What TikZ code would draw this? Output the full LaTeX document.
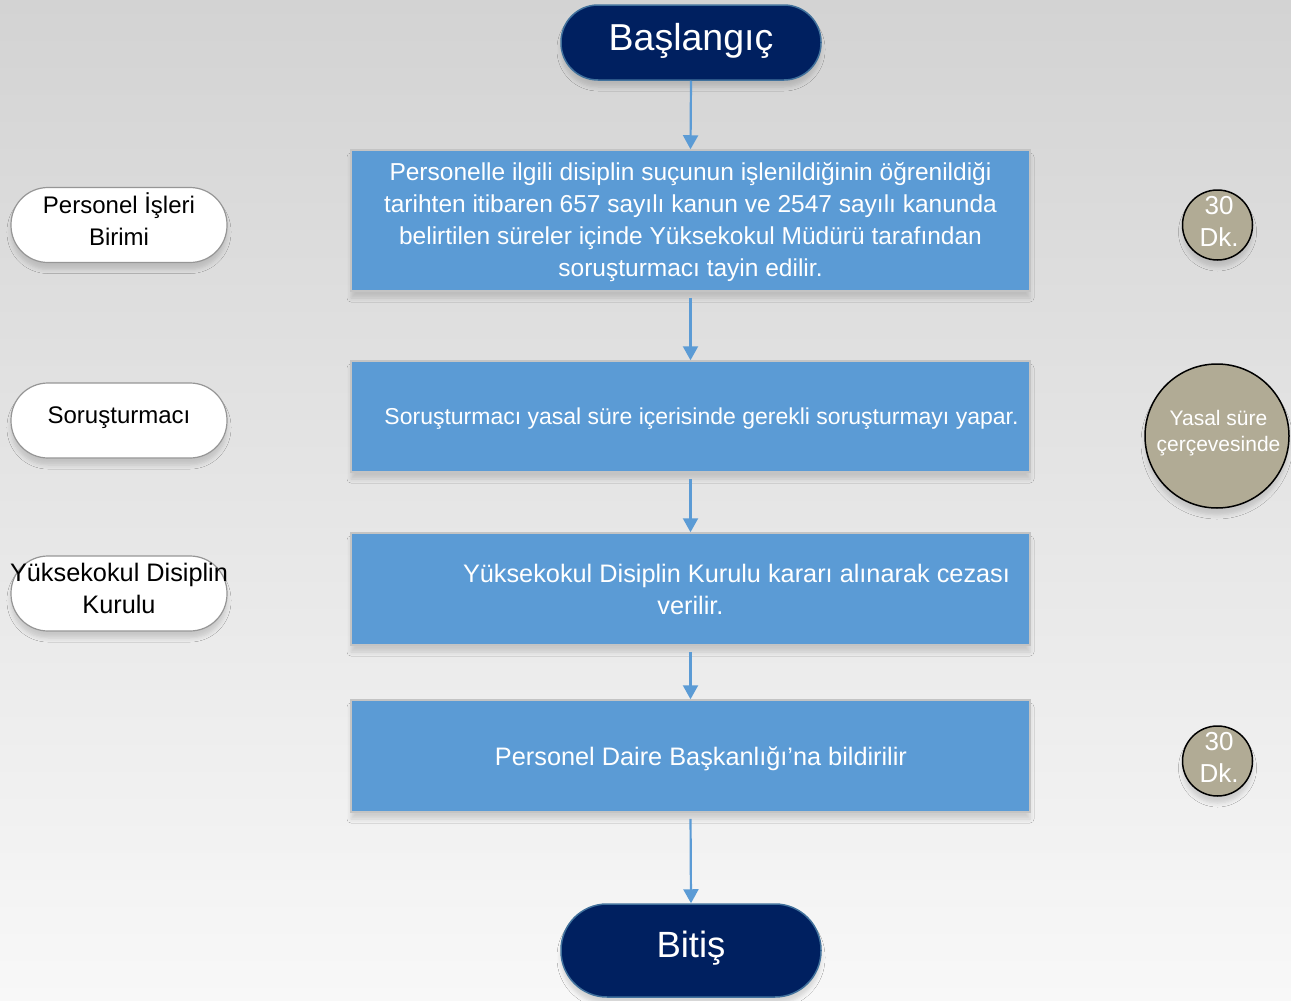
\documentclass[tikz,border=0pt]{standalone}
\usepackage{fontspec}
\setmainfont{Liberation Sans}
\usetikzlibrary{arrows.meta,shadows.blur}
\definecolor{navy}{RGB}{0,32,96}
\definecolor{navyedge}{RGB}{65,113,156}
\definecolor{stepblue}{RGB}{91,155,213}
\definecolor{stepedge}{RGB}{196,196,196}
\definecolor{timefill}{RGB}{177,171,149}
\definecolor{roleedge}{RGB}{150,150,150}
\definecolor{bgtop}{RGB}{211,211,211}
\definecolor{bgbottom}{RGB}{248,248,248}
\tikzset{
  softshadow/.style={blur shadow={shadow xshift=0pt,shadow yshift=-7pt,shadow blur radius=4pt,
    shadow opacity=14}},
  terminal/.style={draw=navyedge,line width=1.5pt,fill=navy,minimum width=260pt,softshadow},
  termtext/.style={text=white,font=\fontsize{37.5}{40}\selectfont},
  stepbox/.style={draw=stepedge,line width=1.5pt,fill=stepblue,minimum width=679pt,softshadow},
  steptext/.style={text=white,align=center,inner sep=0pt},
  role/.style={draw=roleedge,line width=1.2pt,fill=white,rounded corners=37pt,minimum width=216pt,
    minimum height=75pt,softshadow},
  roletext/.style={align=center,inner sep=0pt},
  timecircle/.style={circle,draw=black,line width=1.5pt,fill=timefill,inner sep=0pt,softshadow},
  timetext/.style={text=white,align=center,inner sep=0pt,xshift=1.5pt},
  flow/.style={draw=stepblue,line width=2.2pt,-{Triangle[width=15pt,length=14pt]}},
}
\begin{document}
\begin{tikzpicture}[x=1pt,y=-1pt]
  % page background
  \shade[top color=bgtop,bottom color=bgbottom] (0,0) rectangle (1291,1001);
  \useasboundingbox (0,0) rectangle (1291,1001);

  % start and end terminals
  \node[terminal,minimum height=75pt,rounded corners=37pt,
        label={[termtext,yshift=2pt]center:Başlangıç}] (start) at (691,42.5) {};
  \node[terminal,minimum height=93pt,rounded corners=46pt,
        label={[termtext,font=\fontsize{36.5}{40}\selectfont,yshift=2pt]center:Bitiş}] (finish) at (691,950.5) {};

  % process steps
  \node[stepbox,minimum height=141pt,
        label={[steptext,font=\fontsize{24.5}{32}\selectfont,yshift=-2pt]center:{%
          Personelle ilgili disiplin suçunun işlenildiğinin öğrenildiği\\
          tarihten itibaren 657 sayılı kanun ve 2547 sayılı kanunda\\
          belirtilen süreler içinde Yüksekokul Müdürü tarafından\\
          soruşturmacı tayin edilir.}}] (s1) at (690.5,220.5) {};
  \node[stepbox,minimum height=111pt,
        label={[steptext,font=\fontsize{23}{32}\selectfont,xshift=11pt,yshift=-2pt]center:{%
          Soruşturmacı yasal süre içerisinde gerekli soruşturmayı yapar.}}] (s2) at (690.5,416.5) {};
  \node[stepbox,minimum height=112pt,
        label={[steptext,font=\fontsize{25.3}{32}\selectfont]center:{%
          \hspace*{92pt}Yüksekokul Disiplin Kurulu kararı alınarak cezası\\verilir.}}] (s3) at (690.5,589) {};
  \node[stepbox,minimum height=112pt,
        label={[steptext,font=\fontsize{25.3}{32}\selectfont,xshift=10.5pt,yshift=-2.5pt]center:{%
          Personel Daire Başkanlığı’na bildirilir}}] (s4) at (690.5,756) {};

  % responsible units
  \node[role,label={[roletext,font=\fontsize{24}{32}\selectfont,yshift=5.5pt]center:{Personel İşleri\\Birimi}}]
    (r1) at (119,225) {};
  \node[role,label={[roletext,font=\fontsize{24}{32}\selectfont,yshift=2.5pt]center:{Soruşturmacı}}]
    (r2) at (119,420.5) {};
  \node[role,label={[roletext,font=\fontsize{25.3}{32}\selectfont,yshift=5pt]center:{Yüksekokul Disiplin\\Kurulu}}]
    (r3) at (119,593.5) {};

  % durations
  \node[timecircle,minimum size=70pt,
        label={[timetext,font=\fontsize{26}{32}\selectfont,yshift=4pt]center:{30\\Dk.}}] (t1) at (1217.5,225) {};
  \node[timecircle,minimum size=144pt,
        label={[timetext,font=\fontsize{21}{25.5}\selectfont,yshift=3pt]center:{Yasal süre\\çerçevesinde}}] (t2) at (1217,436) {};
  \node[timecircle,minimum size=70pt,
        label={[timetext,font=\fontsize{26}{32}\selectfont,yshift=4pt]center:{30\\Dk.}}] (t3) at (1217.5,761) {};

  % flow connectors
  \draw[flow] (start.south) -- (s1.north);
  \draw[flow,shorten <=6pt] (s1.south) -- (s2.north);
  \draw[flow,shorten <=6pt] (s2.south) -- (s3.north);
  \draw[flow,shorten <=6pt] (s3.south) -- (s4.north);
  \draw[flow,shorten <=6pt] (s4.south) -- (finish.north);
\end{tikzpicture}
\end{document}
